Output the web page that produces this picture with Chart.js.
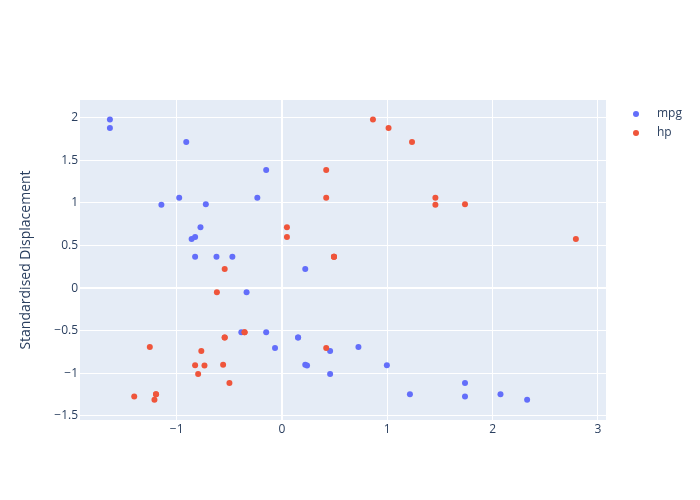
<!DOCTYPE html>
<html>
<head>
<meta charset="utf-8">
<script src="https://cdn.jsdelivr.net/npm/chart.js@4"></script>
<style>
  html, body { margin: 0; padding: 0; background: #fff; }
  canvas { display: block; }
</style>
</head>
<body>
<canvas id="chart" width="700" height="500"></canvas>
<script>
// standardised values (mtcars, population sd)
const cars = ["Mazda RX4", "Mazda RX4 Wag", "Datsun 710", "Hornet 4 Drive", "Hornet Sportabout",
  "Valiant", "Duster 360", "Merc 240D", "Merc 230", "Merc 280", "Merc 280C", "Merc 450SE",
  "Merc 450SL", "Merc 450SLC", "Cadillac Fleetwood", "Lincoln Continental", "Chrysler Imperial",
  "Fiat 128", "Honda Civic", "Toyota Corolla", "Toyota Corona", "Dodge Challenger", "AMC Javelin",
  "Camaro Z28", "Pontiac Firebird", "Fiat X1-9", "Porsche 914-2", "Lotus Europa", "Ford Pantera L",
  "Ferrari Dino", "Maserati Bora", "Volvo 142E"];

const dispZ = [-0.580, -0.580, -1.006, 0.224, 1.060, -0.047, 1.060, -0.689, -0.737, -0.517, -0.517, 0.370,
  0.370, 0.370, 1.978, 1.880, 1.716, -1.246, -1.271, -1.309, -0.907, 0.716, 0.601,
  0.978, 1.388, -1.244, -0.905, -1.112, 0.986, -0.703, 0.576, -0.900];

const mpgZ = [0.153, 0.153, 0.457, 0.221, -0.234, -0.336, -0.976, 0.726, 0.457, -0.150, -0.386, -0.622,
  -0.471, -0.825, -1.634, -1.634, -0.909, 2.075, 1.738, 2.328, 0.238, -0.774, -0.825,
  -1.145, -0.150, 1.215, 0.996, 1.738, -0.723, -0.066, -0.858, 0.221];

const hpZ = [-0.544, -0.544, -0.796, -0.544, 0.420, -0.618, 1.457, -1.255, -0.766, -0.355, -0.355, 0.494,
  0.494, 0.494, 0.864, 1.012, 1.235, -1.196, -1.403, -1.211, -0.736, 0.047, 0.047,
  1.457, 0.420, -1.196, -0.825, -0.499, 1.738, 0.420, 2.791, -0.559];

const seriesNames = ["mpg", "hp"];
const seriesColors = ["#636EFA", "#EF553B"];

const toPoints = xs => xs.map((x, i) => ({ x: x, y: dispZ[i] }));
const minus = v => String(v).replace("-", "\u2212");

const bgPlugin = {
  id: "plotBg",
  beforeDraw(chart) {
    const a = chart.chartArea, c = chart.ctx;
    c.save();
    c.fillStyle = "#E5ECF6";
    c.fillRect(a.left, a.top, a.right - a.left, a.bottom - a.top);
    c.restore();
  }
};

const legendPlugin = {
  id: "sideLegend",
  afterDraw(chart) {
    const c = chart.ctx;
    c.save();
    c.font = "12px 'Open Sans'";
    c.textBaseline = "middle";
    chart.data.datasets.forEach((ds, i) => {
      const y = 114 + i * 19;
      c.fillStyle = ds.backgroundColor;
      c.beginPath();
      c.arc(636, y, 3, 0, Math.PI * 2);
      c.fill();
      c.fillStyle = "#2a3f5f";
      c.fillText(ds.label, 657, y);
    });
    c.restore();
  }
};

const gridStyle = {
  color: "#ffffff",
  lineWidth: ctx => (ctx.tick && ctx.tick.value === 0 ? 2 : 1),
  drawTicks: false
};

new Chart(document.getElementById("chart"), {
  type: "scatter",
  data: {
    datasets: [
      { label: seriesNames[0], data: toPoints(mpgZ), backgroundColor: seriesColors[0], order: 1 },
      { label: seriesNames[1], data: toPoints(hpZ), backgroundColor: seriesColors[1], order: 0 }
    ]
  },
  options: {
    responsive: false,
    animation: false,
    layout: { padding: { top: 100, right: 94, left: 0, bottom: 0 } },
    elements: { point: { radius: 3, borderWidth: 0, hoverRadius: 3 } },
    plugins: { legend: { display: false }, tooltip: { enabled: false } },
    scales: {
      x: {
        type: "linear",
        min: -1.918,
        max: 3.077,
        border: { display: false },
        grid: gridStyle,
        ticks: {
          stepSize: 1,
          includeBounds: false,
          padding: 2,
          color: "#2a3f5f",
          font: { family: "'Open Sans'", size: 12 },
          callback: v => minus(v)
        },
        afterFit: s => { s.height = 80; }
      },
      y: {
        type: "linear",
        min: -1.547,
        max: 2.208,
        border: { display: false },
        grid: gridStyle,
        title: {
          display: true,
          text: "Standardised Displacement",
          color: "#2a3f5f",
          font: { family: "'Open Sans'", size: 14 },
          padding: { top: 18, bottom: 0 }
        },
        ticks: {
          stepSize: 0.5,
          includeBounds: false,
          padding: 2,
          color: "#2a3f5f",
          font: { family: "'Open Sans'", size: 12 },
          callback: v => minus(v)
        },
        afterFit: s => { s.width = 80; }
      }
    }
  },
  plugins: [bgPlugin, legendPlugin]
});
</script>
</body>
</html>
